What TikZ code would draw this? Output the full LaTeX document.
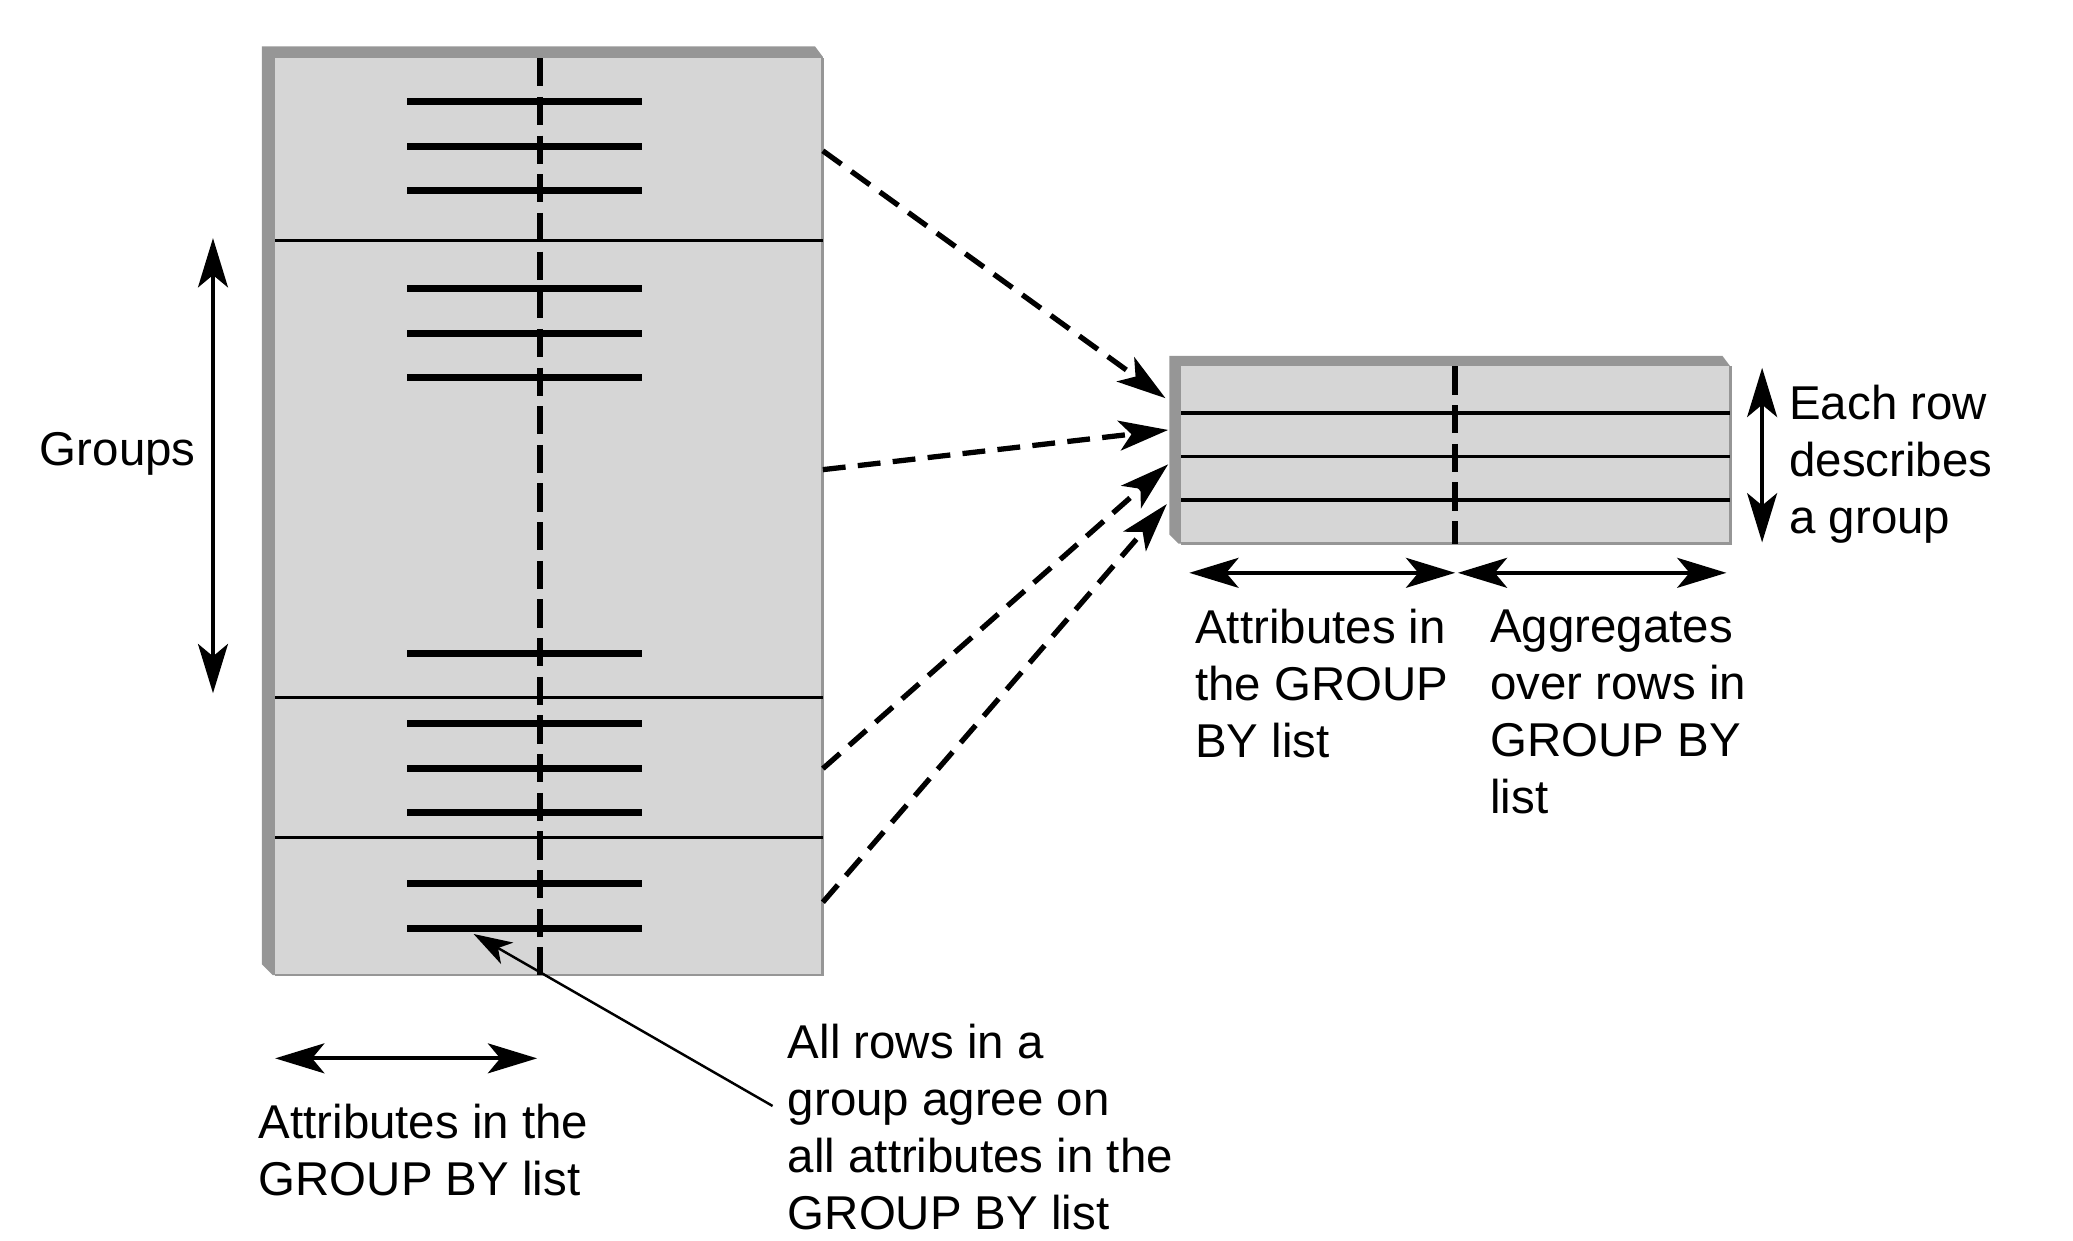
\documentclass[tikz,border=0pt]{standalone}
\usepackage{fontspec}
\setmainfont{Liberation Sans}
\usetikzlibrary{arrows.meta}
\definecolor{cellgray}{HTML}{D6D6D6}
\definecolor{edgegray}{HTML}{969696}
\tikzset{
  rowmark/.style={line width=2pt},
  colsplit/.style={line width=1.7pt, dash pattern=on 8pt off 3pt},
  grpline/.style={line width=0.8pt},
  dimarrow/.style={line width=1.2pt, {Stealth[length=14pt,width=8.5pt,inset=3.5pt]}-{Stealth[length=14pt,width=8.5pt,inset=3.5pt]}},
  maparrow/.style={line width=1.5pt, dash pattern=on 6.5pt off 3.5pt, -{Stealth[length=14pt,width=8.5pt,inset=3.5pt]}},
  txt/.style={draw=none, inner sep=0pt, align=left, anchor=west, font=\fontsize{13.5}{16.2}\selectfont},
}
\begin{document}
\begin{tikzpicture}[x=0.013228cm, y=-0.013228cm]
             \useasboundingbox (0,0) rectangle (1567,938);

             % grouped table
             \fill[edgegray] (198,35) -- (616,35) -- (622,43) -- (622,737) -- (206,737) -- (198,729) -- cycle;
             \fill[cellgray] (208,44) rectangle (622,737);
             \draw[edgegray, line width=0.8pt] (208,737) -- (622,737) -- (622,44);
             \foreach \y in {182,527,633}
               \draw[grpline] (208,\y) -- (622,\y);
             \draw[colsplit] (408,44) -- (408,737);
             \foreach \y in {77,111,144,218,252,285,494,547,581,614,668,702}
               \draw[rowmark] (308,\y) -- (485,\y);

             % result table
             \fill[edgegray] (884,269) -- (1302,269) -- (1308,277) -- (1308,411) -- (891,411) -- (884,404) -- cycle;
             \fill[cellgray] (893,277) rectangle (1308,411);
             \draw[edgegray, line width=0.8pt] (893,411) -- (1308,411) -- (1308,277);
             \foreach \y in {312,345,378}
               \draw[grpline, line width=1pt] (893,\y) -- (1308,\y);
             \draw[colsplit] (1100,277) -- (1100,411);

             % texts
             \node[txt, anchor=center] (groups) at (89,343) {Groups};
             \node[txt] (eachrow) at (1352,351) {Each row\\describes\\a group};
             \node[txt] (resattr) at (903,517) {Attributes in\\the GROUP\\BY list};
             \node[txt] (resagg) at (1126,538) {Aggregates\\over rows in\\GROUP BY\\list};
             \node[txt] (grpattr) at (195,869) {Attributes in the\\GROUP BY list};
             \node[txt] (note) at (595,852) {All rows in a\\group agree on\\all attributes in the\\GROUP BY list};

             % arrow ends
             \coordinate (g1) at (622,114);
             \coordinate (g2) at (622,355);
             \coordinate (g3) at (622,581);
             \coordinate (g4) at (622,682);
             \coordinate (r1) at (881,301);
             \coordinate (r2) at (883,325);
             \coordinate (r3) at (883,351);
             \coordinate (r4) at (882,381);
             \foreach \i in {1,...,4}
               \draw[maparrow] (g\i) -- (r\i);

             \coordinate (grptop) at (161,180);
             \coordinate (grpbot) at (161,524);
             \draw[dimarrow] (grptop) -- (grpbot);
             \coordinate (rowtop) at (1332,278);
             \coordinate (rowbot) at (1332,410);
             \draw[dimarrow] (rowtop) -- (rowbot);
             \coordinate (resl) at (899,433);
             \coordinate (resm) at (1100,433);
             \coordinate (resn) at (1102,433);
             \coordinate (resr) at (1305,433);
             \draw[dimarrow] (resl) -- (resm);
             \draw[dimarrow] (resn) -- (resr);
             \coordinate (attl) at (208,800);
             \coordinate (attr) at (406,800);
             \draw[dimarrow] (attl) -- (attr);

             \coordinate (notetail) at (584,836);
             \coordinate (notehead) at (358,706);
             \draw[line width=0.7pt, -{Stealth[length=11pt,width=7pt,inset=3pt]}] (notetail) -- (notehead);
             \end{tikzpicture}
\end{document}
